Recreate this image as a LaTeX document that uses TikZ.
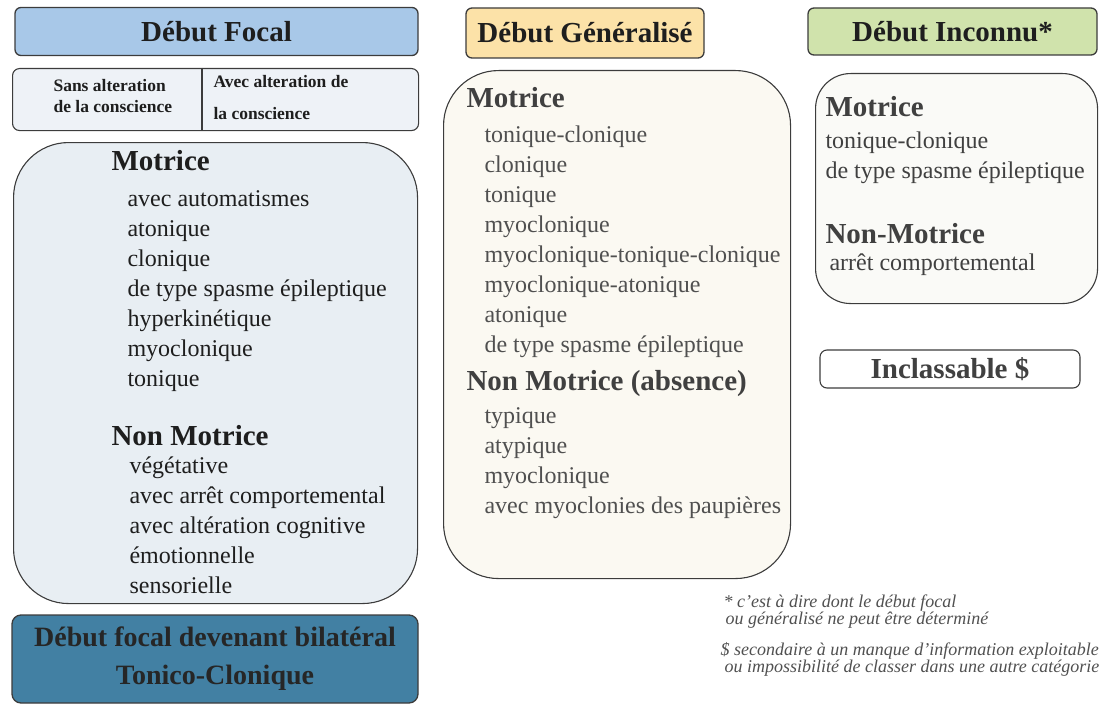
\documentclass[tikz,border=0pt]{standalone}
\usepackage{fontspec}
\setmainfont{LiberationSerif}[Extension=.ttf, UprightFont=*-Regular, BoldFont=*-Bold,
  ItalicFont=*-Italic, BoldItalicFont=*-BoldItalic]
\definecolor{edge}{RGB}{60,60,60}
\definecolor{focalhead}{RGB}{168,200,232}
\definecolor{focalsub}{RGB}{238,242,247}
\definecolor{focalbox}{RGB}{232,238,243}
\definecolor{bilatbox}{RGB}{66,128,163}
\definecolor{genhead}{RGB}{252,226,168}
\definecolor{genbox}{RGB}{251,249,242}
\definecolor{unkhead}{RGB}{208,227,172}
\definecolor{unkbox}{RGB}{250,250,247}
\definecolor{darktext}{RGB}{30,30,30}
\definecolor{greytext}{RGB}{80,80,80}
\tikzset{
  header/.style={draw=edge, line width=1.3pt, rounded corners=6pt, inner sep=0pt,
    font=\fontsize{29}{32}\selectfont\bfseries, text=darktext},
  panel/.style={draw=edge, line width=1.1pt, anchor=north west, inner sep=0pt},
  title/.style={anchor=base west, font=\fontsize{29}{32}\selectfont\bfseries},
  item/.style={anchor=base west, font=\fontsize{24}{30}\selectfont},
  subtext/.style={anchor=base west, font=\fontsize{17.5}{20}\selectfont\bfseries, text=darktext},
  note/.style={anchor=base west, font=\fontsize{18}{18}\selectfont\itshape, text=greytext},
}
\begin{document}
\begin{tikzpicture}[x=1pt,y=-1pt]
\useasboundingbox (0,0) rectangle (1107,706);
% Debut focal
\node[header, fill=focalhead, minimum width=403pt, minimum height=48pt] (focal) at (216.5,31.5) {Début Focal};
\node[panel, fill=focalsub, rounded corners=7pt, minimum width=406pt, minimum height=62pt] (conscience) at (12,68) {};
\draw[edge, line width=1.3pt] (202,68) -- (202,130);
\node[subtext] (sans1) at (50,92) {Sans alteration};
\node[subtext] (sans2) at (50,113) {de la conscience};
\node[subtext] (avec1) at (210,88) {Avec alteration de};
\node[subtext] (avec2) at (210,119) {la conscience};
\node[panel, fill=focalbox, rounded corners=55pt, minimum width=404pt, minimum height=461pt] (focalbox) at (13,142) {};
\node[title, text=darktext] (fmot) at (108,170) {Motrice};
\foreach \txt [count=\i from 0] in {avec automatismes, atonique, clonique,
    de type spasme épileptique, hyperkinétique, myoclonique, tonique}
  \node[item, text=darktext] (fmot\i) at (124,206+30*\i) {\txt};
\node[title, text=darktext] (fnon) at (108,445) {Non Motrice};
\foreach \txt [count=\i from 0] in {végétative, avec arrêt comportemental,
    avec altération cognitive, émotionnelle, sensorielle}
  \node[item, text=darktext] (fnon\i) at (126,473+30*\i) {\txt};
% Bilateral
\node[header, fill=bilatbox, rounded corners=9pt, minimum width=406pt, minimum height=88pt,
  align=center, font=\fontsize{28}{38}\selectfont\bfseries, text=black!85] (bilat) at (215,659)
  {Début focal devenant bilatéral\\Tonico-Clonique};
% Debut generalise
\node[header, fill=genhead, minimum width=238pt, minimum height=50pt] (gen) at (585,33) {Début Généralisé};
\node[panel, fill=genbox, rounded corners=55pt, minimum width=347pt, minimum height=508pt] (genbox) at (443,70) {};
\node[title, text=greytext!80!black] (gmot) at (463,108) {Motrice};
\foreach \txt [count=\i from 0] in {tonique-clonique, clonique, tonique, myoclonique,
    myoclonique-tonique-clonique, myoclonique-atonique, atonique, de type spasme épileptique}
  \node[item, text=greytext] (gmot\i) at (481,142+30*\i) {\txt};
\node[title, text=greytext!80!black] (gnon) at (463,390) {Non Motrice (absence)};
\foreach \txt [count=\i from 0] in {typique, atypique, myoclonique, avec myoclonies des paupières}
  \node[item, text=greytext] (gnon\i) at (481,423+30*\i) {\txt};
% Debut inconnu
\node[header, fill=unkhead, minimum width=289pt, minimum height=47pt] (unk) at (952.5,31.5) {Début Inconnu*};
\node[panel, fill=unkbox, rounded corners=35pt, minimum width=282pt, minimum height=230pt] (unkbox) at (815,73) {};
\node[title, text=darktext!85] (umot) at (822,117) {Motrice};
\node[item, text=darktext!85] (umot0) at (822,148) {tonique-clonique};
\node[item, text=darktext!85] (umot1) at (822,178) {de type spasme épileptique};
\node[title, text=darktext!85] (unon) at (822,243) {Non-Motrice};
\node[item, text=darktext!85] (unon0) at (826,270) {arrêt comportemental};
\node[header, fill=white, rounded corners=7pt, line width=1.1pt, minimum width=260pt, minimum height=38pt,
  text=darktext!85] (inclass) at (950,369) {Inclassable \$};
% Notes
\node[note] (note1) at (720,607) {* c’est à dire dont le début focal};
\node[note] (note2) at (722,624) {ou généralisé ne peut être déterminé};
\node[note] (note3) at (717,655) {\$ secondaire à un manque d’information exploitable};
\node[note] (note4) at (721,672) {ou impossibilité de classer dans une autre catégorie};
\end{tikzpicture}
\end{document}
